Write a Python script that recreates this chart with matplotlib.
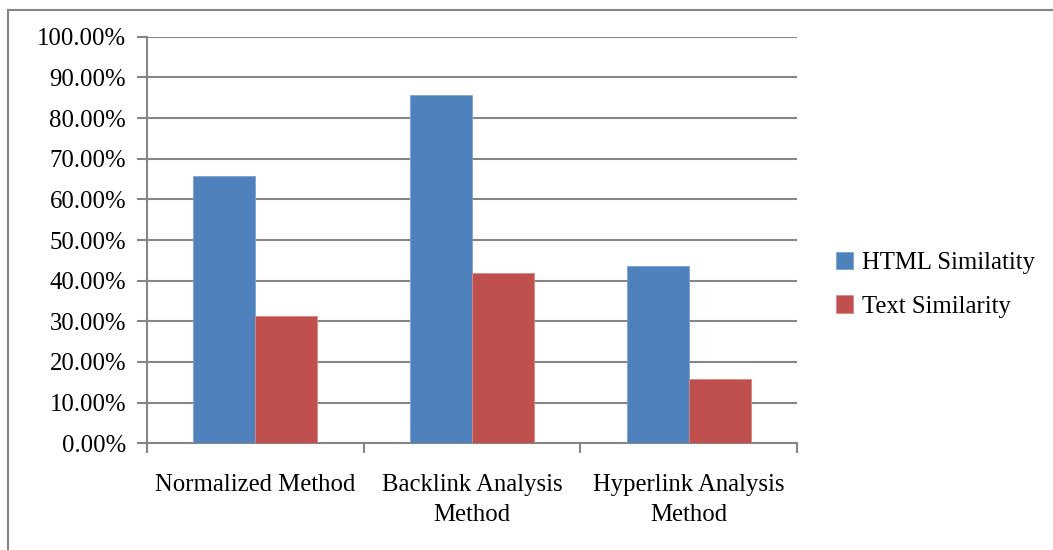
import matplotlib
matplotlib.use("Agg")
import matplotlib.pyplot as plt
from matplotlib.patches import Rectangle
from matplotlib.ticker import FuncFormatter, MultipleLocator
import numpy as np

categories = ["Normalized Method", "Backlink Analysis\nMethod", "Hyperlink Analysis\nMethod"]
html_similarity = [65.7, 85.6, 43.6]
text_similarity = [31.4, 41.8, 15.7]
series_names = ["HTML Similatity", "Text Similarity"]
colors = ["#4F81BD", "#C0504D"]

plt.rcParams['font.family'] = ['Liberation Serif', 'DejaVu Serif']
FS = 17.8

W, H = 1053, 550
fig = plt.figure(figsize=(W / 100, H / 100), dpi=100)
ax = fig.add_axes([147 / W, 1 - 443.3 / H, (797 - 147) / W, (443.3 - 36.7) / H])

# outer chart border
fig.patches.append(Rectangle((8 / W, -0.01), 1.05, 1 - 10 / H + 0.01, transform=fig.transFigure,
                             fill=False, edgecolor="#868686", linewidth=1.5))

x = np.arange(len(categories))
bw = 1 / 3.5
ax.bar(x - bw / 2, html_similarity, bw, color=colors[0], edgecolor="#7DA3D4", linewidth=0.6,
       label=series_names[0], zorder=3)
ax.bar(x + bw / 2, text_similarity, bw, color=colors[1], edgecolor="#D98785", linewidth=0.6,
       label=series_names[1], zorder=3)

ax.set_xlim(-0.5, len(categories) - 0.5)
ax.set_ylim(0, 100)
ax.yaxis.set_major_locator(MultipleLocator(10))
ax.yaxis.set_major_formatter(FuncFormatter(lambda v, p: f"{v:.2f}%"))
ax.grid(axis="y", color="#868686", linewidth=1.5, zorder=0)

ax.set_xticks(np.arange(-0.5, len(categories), 1.0))
ax.set_xticklabels([])
ax.set_xticks(x, minor=True)
ax.set_xticklabels(categories, minor=True, fontsize=FS, linespacing=1.45)
ax.tick_params(axis="x", which="minor", length=0, pad=22)
ax.tick_params(axis="x", which="major", length=7, width=1.5, color="#868686", direction="out")
ax.tick_params(axis="y", length=7, width=1.5, color="#868686", direction="out", labelsize=FS, pad=8)

for s in ["top", "right"]:
    ax.spines[s].set_visible(False)
for s in ["left", "bottom"]:
    ax.spines[s].set_color("#868686")
    ax.spines[s].set_linewidth(1.5)

leg = fig.legend(loc="upper left", bbox_to_anchor=(826 / W, 1 - 242 / H), frameon=False,
                 fontsize=FS, handlelength=0.7, handleheight=0.7, handletextpad=0.35,
                 labelspacing=0.85, borderaxespad=0)

fig.savefig("out.png", dpi=100)
